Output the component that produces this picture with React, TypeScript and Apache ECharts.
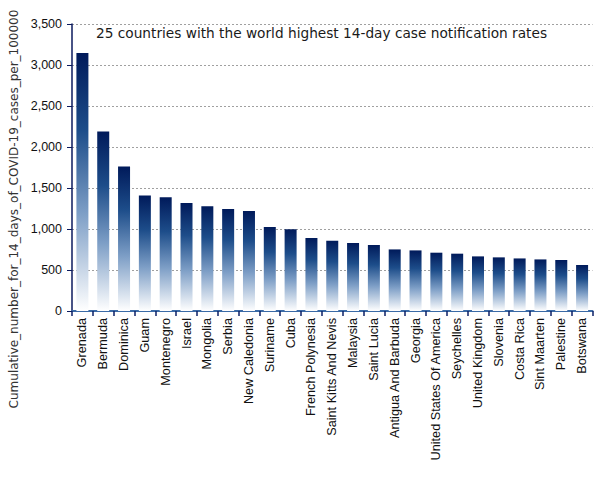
import React, { useEffect, useRef } from "react";
import * as echarts from "echarts";

const countries = [
  "Grenada", "Bermuda", "Dominica", "Guam", "Montenegro", "Israel", "Mongolia",
  "Serbia", "New Caledonia", "Suriname", "Cuba", "French Polynesia",
  "Saint Kitts And Nevis", "Malaysia", "Saint Lucia", "Antigua And Barbuda",
  "Georgia", "United States Of America", "Seychelles", "United Kingdom",
  "Slovenia", "Costa Rica", "Sint Maarten", "Palestine", "Botswana",
];
const rates = [
  3146, 2188, 1763, 1410, 1386, 1317, 1277, 1244, 1220, 1024, 998, 890,
  857, 829, 805, 751, 739, 711, 699, 666, 654, 641, 629, 622, 561,
];
const titleText = "25 countries with the world highest 14-day case notification rates";
const yAxisName = "Cumulative_number_for_14_days_of_COVID-19_cases_per_100000";

export default function App() {
  const ref = useRef<HTMLDivElement>(null);
  useEffect(() => {
    document.body.style.margin = "0";
    const chart = echarts.init(ref.current!, null, { renderer: "svg" });
    chart.setOption({
      animation: false,
      backgroundColor: "#ffffff",
      title: {
        text: titleText,
        left: 96,
        top: 26,
        padding: 0,
        textStyle: {
          fontFamily: "DejaVu Sans",
          fontSize: 13.7,
          fontWeight: "normal",
          color: "#1a1a1a",
        },
      },
      grid: { left: 72, right: 12.5, top: 24, bottom: 169 },
      xAxis: {
        type: "category",
        data: countries,
        axisLine: { lineStyle: { color: "#3a6aa6", width: 2 } },
        axisTick: { show: true, length: 5, lineStyle: { color: "#0b1f66", width: 1.5 } },
        axisLabel: {
          rotate: 90,
          interval: 0,
          margin: 7,
          fontFamily: "Liberation Sans",
          fontSize: 12.7,
          color: "#111",
        },
      },
      yAxis: {
        type: "value",
        min: 0,
        max: 3500,
        interval: 500,
        axisLine: { show: true, lineStyle: { color: "#0b1a5e", width: 1.5 } },
        axisTick: { show: true, length: 5, lineStyle: { color: "#0b1a5e" } },
        axisLabel: {
          margin: 10,
          fontFamily: "Liberation Sans",
          fontSize: 12.5,
          color: "#111",
          formatter: (v: number) => v.toLocaleString("en-US"),
        },
        splitLine: { lineStyle: { color: "#a0a0a0", type: [2, 2], width: 1 } },
      },
      graphic: [
        {
          type: "text",
          x: 14,
          y: 209,
          rotation: Math.PI / 2,
          style: {
            text: yAxisName,
            fontFamily: "DejaVu Sans",
            fontSize: 12,
            fill: "#333",
            align: "center",
            verticalAlign: "middle",
          },
        },
      ],
      series: [
        {
          type: "bar",
          data: rates,
          barWidth: 12,
          itemStyle: {
            color: new echarts.graphic.LinearGradient(0, 0, 0, 1, [
              { offset: 0, color: "#001a5a" },
              { offset: 0.3, color: "#1d4d8a" },
              { offset: 0.62, color: "#7d9ec6" },
              { offset: 1, color: "#ffffff" },
            ]),
          },
        },
      ],
    });
    return () => chart.dispose();
  }, []);
  return <div ref={ref} style={{ width: 605, height: 480 }} />;
}
